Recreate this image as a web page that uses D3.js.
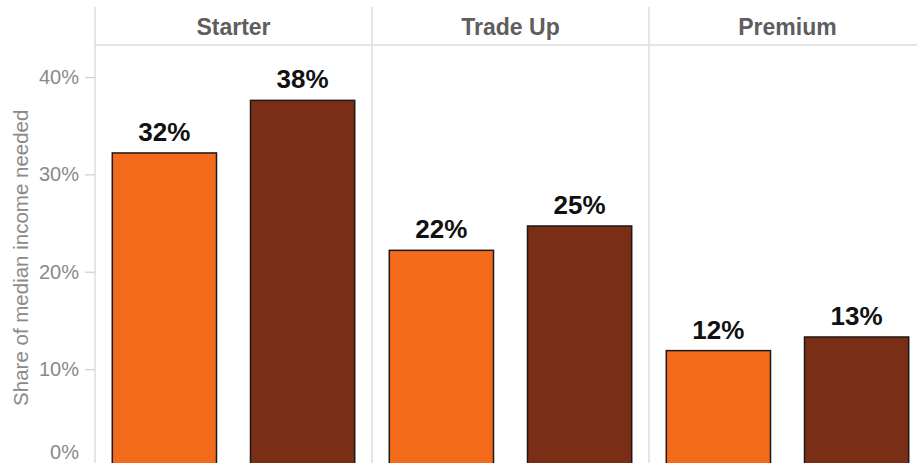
<!DOCTYPE html>
<html>
<head>
<meta charset="utf-8">
<script src="https://cdn.jsdelivr.net/npm/d3@7"></script>
<style>
  html, body { margin: 0; padding: 0; background: #fff; }
  svg { display: block; font-family: "Liberation Sans", Arial, sans-serif; }
</style>
</head>
<body>
<svg id="chart" width="917" height="463"></svg>
<script>
// Home tiers shown as facets
const tiers = ["Starter", "Trade Up", "Premium"];
// Two bars per tier
const groups = ["a", "b"];
// Share of median income needed (%), first and second bar per tier
const valuesA = [32.2, 22.2, 11.9];
const valuesB = [37.6, 24.7, 13.3];
const yTicks = [0, 10, 20, 30, 40];
const yTitle = "Share of median income needed";

const colors = { a: "#F26A1A", b: "#7A2E15" };

const W = 917, H = 463;
const margin = { left: 95, top: 45, stripTop: 7 };
const panelW = 277;
const yZero = 466.5;

const svg = d3.select("#chart");

const y = d3.scaleLinear().domain([0, 40]).range([yZero, 77]);
const fx = d3.scaleBand().domain(tiers).range([margin.left, margin.left + panelW * tiers.length]).padding(0);
const x = d3.scaleBand().domain(groups).range([0, panelW]).paddingInner(0.246).paddingOuter(0.125);

const data = tiers.map((t, i) => ({ tier: t, bars: [
  { g: "a", v: valuesA[i] },
  { g: "b", v: valuesB[i] }
]}));

// Facet frame lines
const gridColor = "#dcdcdc";
svg.append("line")
  .attr("x1", margin.left).attr("x2", W + 10)
  .attr("y1", margin.top).attr("y2", margin.top)
  .attr("stroke", gridColor).attr("stroke-width", 1.5);
tiers.forEach(t => {
  svg.append("line")
    .attr("x1", fx(t)).attr("x2", fx(t))
    .attr("y1", margin.stripTop).attr("y2", H)
    .attr("stroke", gridColor).attr("stroke-width", 1.5);
});

// Strip labels
svg.selectAll(".strip").data(tiers).join("text")
  .attr("class", "strip")
  .attr("x", d => fx(d) + panelW / 2)
  .attr("y", 35)
  .attr("text-anchor", "middle")
  .attr("font-size", 23)
  .attr("font-weight", "bold")
  .attr("fill", "#5e5e5e")
  .text(d => d);

// Y axis
const yAxis = svg.append("g")
  .attr("transform", `translate(${margin.left},0)`)
  .call(d3.axisLeft(y).tickValues(yTicks).tickFormat(d => d + "%").tickSize(10).tickPadding(6));
yAxis.select(".domain").remove();
yAxis.selectAll(".tick line").attr("stroke", "#cfcfcf").attr("stroke-width", 1.2);
yAxis.selectAll(".tick text")
  .attr("fill", "#8a8a8a")
  .attr("font-size", 20)
  .attr("font-family", "Liberation Sans, Arial, sans-serif");
// keep the bottom label inside the drawing area
yAxis.selectAll(".tick").filter(d => d === 0).select("text").attr("dy", "-0.4em");

svg.append("text")
  .attr("transform", `translate(28,${(margin.top + yZero) / 2 + 2}) rotate(-90)`)
  .attr("text-anchor", "middle")
  .attr("font-size", 20.5)
  .attr("fill", "#8a8a8a")
  .text(yTitle);

// Bars and value labels
const panel = svg.selectAll(".panel").data(data).join("g")
  .attr("class", "panel")
  .attr("transform", d => `translate(${fx(d.tier)},0)`);

panel.selectAll("rect").data(d => d.bars).join("rect")
  .attr("x", d => x(d.g))
  .attr("y", d => y(d.v))
  .attr("width", x.bandwidth())
  .attr("height", d => yZero - y(d.v))
  .attr("fill", d => colors[d.g])
  .attr("stroke", "#1a1a1a")
  .attr("stroke-width", 1.5);

panel.selectAll(".val").data(d => d.bars).join("text")
  .attr("class", "val")
  .attr("x", d => x(d.g) + x.bandwidth() / 2)
  .attr("y", d => y(d.v) - 12)
  .attr("text-anchor", "middle")
  .attr("font-size", 26)
  .attr("font-weight", "bold")
  .attr("fill", "#111")
  .text(d => Math.round(d.v) + "%");
</script>
</body>
</html>
